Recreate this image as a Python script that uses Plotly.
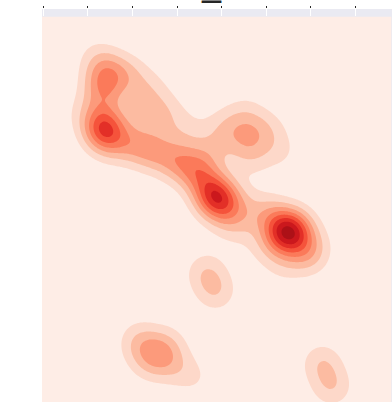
import numpy as np
import plotly.graph_objects as go

# Estimated sample locations and weights read from the density surface
sample_x = [245, 235, 255, 235, 255, 223, 265, 240, 272, 219, 267, 195, 197, 173, 162, 183, 195, 152, 132, 107, 85, 61, 58, 66, 38, 50, 61, 62, 85, 105, 122, 142, 118, 97, 165, 178, 203, 181, 225, 203, 208, 238, 97, 117, 133, 152, 95, 105, 125, 163, 173, 279, 289]
sample_y = [170, 178, 162, 160, 180, 190, 148, 135, 160, 152, 142, 197, 197, 205, 222, 190, 175, 232, 242, 252, 259, 273, 295, 258, 290, 350, 316, 334, 328, 312, 292, 272, 284, 290, 250, 262, 266, 277, 272, 289, 245, 250, 57, 47, 35, 24, 68, 38, 60, 130, 110, 39, 15]
sample_w = [5.5, 1.0, 1.0, 0.8, 0.8, 1.5, 1.5, 0.8, 0.5, 0.6, 0.4, 0.5, 0.4, 5.5, 1.5, 1.5, 1.0, 2.4, 2.4, 2.6, 1.8, 5.0, 1.2, 1.0, 0.6, 0.5, 2.6, 2.0, 1.5, 1.3, 0.9, 1.0, 0.7, 0.85, 1.0, 0.6, 1.8, 1.0, 1.2, 1.0, 1.2, 0.9, 1.4, 1.9, 1.0, 0.8, 0.5, 0.9, 0.9, 1.6, 1.6, 1.7, 1.7]
bandwidth = 15.0
band_colors = ["#FEEDE6", "#FDD8C9", "#FCBBA1", "#FC9A7B", "#FB7A5A", "#F5533B", "#E32F27", "#CB181D", "#AD1117", "#7F0610"]
title_text = "_"

gx = np.arange(-1, 350, 1.5)
gy = np.arange(0, 387, 1.5)
X, Y = np.meshgrid(gx, gy)
Z = np.zeros_like(X)
for sx, sy, sw in zip(sample_x, sample_y, sample_w):
    Z += sw * np.exp(-((X - sx) ** 2 + (Y - sy) ** 2) / (2 * bandwidth ** 2))

n = len(band_colors)
scale = []
for i, c in enumerate(band_colors):
    scale += [[i / n, c], [(i + 1) / n, c]]

fig = go.Figure()
fig.add_trace(go.Contour(
    x=gx, y=gy, z=Z, xaxis="x", yaxis="y",
    colorscale=scale, zmin=0, zmax=10, showscale=False, hoverinfo="skip",
    autocontour=False,
    contours=dict(coloring="fill", start=1, end=9, size=1, showlines=False),
    line=dict(width=0),
))
fig.add_trace(go.Scatter(x=[0], y=[0], xaxis="x2", yaxis="y2", mode="markers",
                         marker=dict(opacity=0), hoverinfo="skip", showlegend=False))

fig.update_layout(
    width=392, height=402, margin=dict(l=42, r=0, t=9, b=0),
    paper_bgcolor="white", plot_bgcolor="#EAEAF2", showlegend=False,
    xaxis=dict(domain=[0, 1], range=[-1, 349], visible=False, anchor="y"),
    yaxis=dict(domain=[0, 386 / 393], range=[0, 386], visible=False, anchor="x"),
    xaxis2=dict(domain=[0, 1], range=[-1, 349], anchor="y2", side="top", tick0=0.3, dtick=44.57,
                ticks="outside", ticklen=2, tickwidth=1, tickcolor="#262626", showticklabels=False,
                showgrid=True, gridcolor="white", gridwidth=1, zeroline=False, showline=False),
    yaxis2=dict(domain=[386 / 393, 1], range=[0, 1], visible=False, anchor="x2"),
    annotations=[dict(text=title_text, xref="paper", yref="paper", x=(211.5 - 42) / 350, y=1,
                      xanchor="center", yanchor="bottom", yshift=4, showarrow=False,
                      font=dict(family="DejaVu Sans", size=38, color="#262626"))],
)
fig.write_html("out.html", config=dict(displayModeBar=False),
               post_script="document.body.style.margin='0';document.body.style.overflow='hidden';")
